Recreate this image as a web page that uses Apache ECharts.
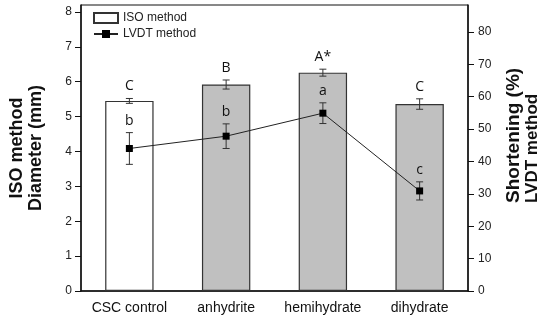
<!DOCTYPE html>
<html><head><meta charset="utf-8">
<script src="https://cdn.jsdelivr.net/npm/echarts@6/dist/echarts.min.js"></script>
<style>html,body{margin:0;padding:0;background:#fff}#c{width:550px;height:320px}</style>
</head><body><div id="c"></div>
<script>
var categories = ['CSC control', 'anhydrite', 'hemihydrate', 'dihydrate'];
var isoMean = [5.45, 5.92, 6.26, 5.36];
var isoErr = [0.07, 0.13, 0.10, 0.15];
var isoLetters = ['C', 'B', 'A*', 'C'];
var lvdtMean = [44.0, 47.8, 54.9, 30.9];
var lvdtErr = [4.9, 3.8, 3.2, 2.8];
var lvdtLetters = ['b', 'b', 'a', 'c'];
var leftTicks = [0, 1, 2, 3, 4, 5, 6, 7, 8];
var rightTicks = [0, 10, 20, 30, 40, 50, 60, 70, 80];
var barColors = ['#ffffff', '#c0c0c0', '#c0c0c0', '#c0c0c0'];

var FONT = 'Liberation Sans, Arial, sans-serif';
var chart = echarts.init(document.getElementById('c'));

function errRenderer(means, errs, letters) {
  return function (params, api) {
    var i = api.value(0);
    var m = means[i], e = errs[i];
    var top = api.coord([i, m + e]);
    var bot = api.coord([i, m - e]);
    var x = top[0], hw = 3.5;
    var st = { stroke: '#333', lineWidth: 1 };
    return {
      type: 'group',
      children: [
        { type: 'line', shape: { x1: x, y1: top[1], x2: x, y2: bot[1] }, style: st },
        { type: 'line', shape: { x1: x - hw, y1: top[1], x2: x + hw, y2: top[1] }, style: st },
        { type: 'line', shape: { x1: x - hw, y1: bot[1], x2: x + hw, y2: bot[1] }, style: st },
        { type: 'text', style: { text: letters[i], x: x, y: top[1] - 12, align: 'center', verticalAlign: 'middle',
          font: '14px "Open Sans", sans-serif', fill: '#111' } }
      ]
    };
  };
}

var option = {
  animation: false,
  grid: { left: 74, right: 82, top: 5, bottom: 29, show: true, borderColor: '#111', borderWidth: 1, backgroundColor: 'transparent' },
  legend: {
    orient: 'vertical', left: 88, top: 7, itemGap: 4, itemWidth: 24, itemHeight: 10,
    textStyle: { fontFamily: FONT, fontSize: 12, color: '#222' },
    data: [{ name: 'ISO method', icon: 'rect' }, { name: 'LVDT method' }]
  },
  xAxis: {
    type: 'category', data: categories, boundaryGap: true,
    axisLine: { lineStyle: { color: '#111', width: 1.5 } },
    axisTick: { show: false },
    axisLabel: { fontFamily: FONT, fontSize: 14, color: '#111', margin: 10, interval: 0 }
  },
  yAxis: [
    {
      type: 'value', min: 0, max: 8.2, interval: 1, position: 'left',
      splitLine: { show: false },
      axisLine: { show: true, lineStyle: { color: '#111', width: 1.5 } },
      axisTick: { show: true, length: 6, lineStyle: { color: '#111' } },
      axisLabel: { fontFamily: FONT, fontSize: 12, color: '#222', margin: 9, showMaxLabel: false,
        formatter: function (v) { return leftTicks.indexOf(v) >= 0 ? String(v) : ''; } },
      name: 'ISO method\nDiameter (mm)', nameLocation: 'middle', nameGap: 35,
      nameTextStyle: { fontFamily: FONT, fontSize: 18, fontWeight: 'bold', color: '#111', lineHeight: 19 }
    },
    {
      type: 'value', min: 0, max: 88.3, interval: 10, position: 'right',
      splitLine: { show: false },
      axisLine: { show: true, lineStyle: { color: '#111', width: 1.5 } },
      axisTick: { show: true, length: 6, lineStyle: { color: '#111' } },
      axisLabel: { fontFamily: FONT, fontSize: 12, color: '#222', margin: 10, showMaxLabel: false,
        formatter: function (v) { return rightTicks.indexOf(v) >= 0 ? String(v) : ''; } }
    }
  ],
  graphic: [{
    type: 'text', x: 514, y: 203, rotation: Math.PI / 2,
    style: { text: 'Shortening (%)', align: 'left', verticalAlign: 'middle',
      font: 'bold 19px ' + FONT, fill: '#111' }
  }, {
    type: 'text', x: 532, y: 203, rotation: Math.PI / 2,
    style: { text: 'LVDT method', align: 'left', verticalAlign: 'middle',
      font: 'bold 17px ' + FONT, fill: '#111' }
  }],
  series: [
    {
      name: 'ISO method', type: 'bar', yAxisIndex: 0, barWidth: '50%',
      itemStyle: { color: '#ffffff', borderColor: '#333', borderWidth: 1.2 },
      data: isoMean.map(function (v, i) { return { value: v, itemStyle: { color: barColors[i] } }; }),
      z: 2
    },
    {
      name: 'isoErr', type: 'custom', yAxisIndex: 0, z: 3,
      renderItem: errRenderer(isoMean, isoErr, isoLetters),
      data: categories.map(function (c, i) { return [i, isoMean[i]]; })
    },
    {
      name: 'LVDT method', type: 'line', yAxisIndex: 1, z: 5,
      symbol: 'rect', symbolSize: 7,
      lineStyle: { color: '#222', width: 1 },
      itemStyle: { color: '#000' },
      data: lvdtMean
    },
    {
      name: 'lvdtErr', type: 'custom', yAxisIndex: 1, z: 4,
      renderItem: errRenderer(lvdtMean, lvdtErr, lvdtLetters),
      data: categories.map(function (c, i) { return [i, lvdtMean[i]]; })
    }
  ]
};
chart.setOption(option);
</script>
</body></html>
